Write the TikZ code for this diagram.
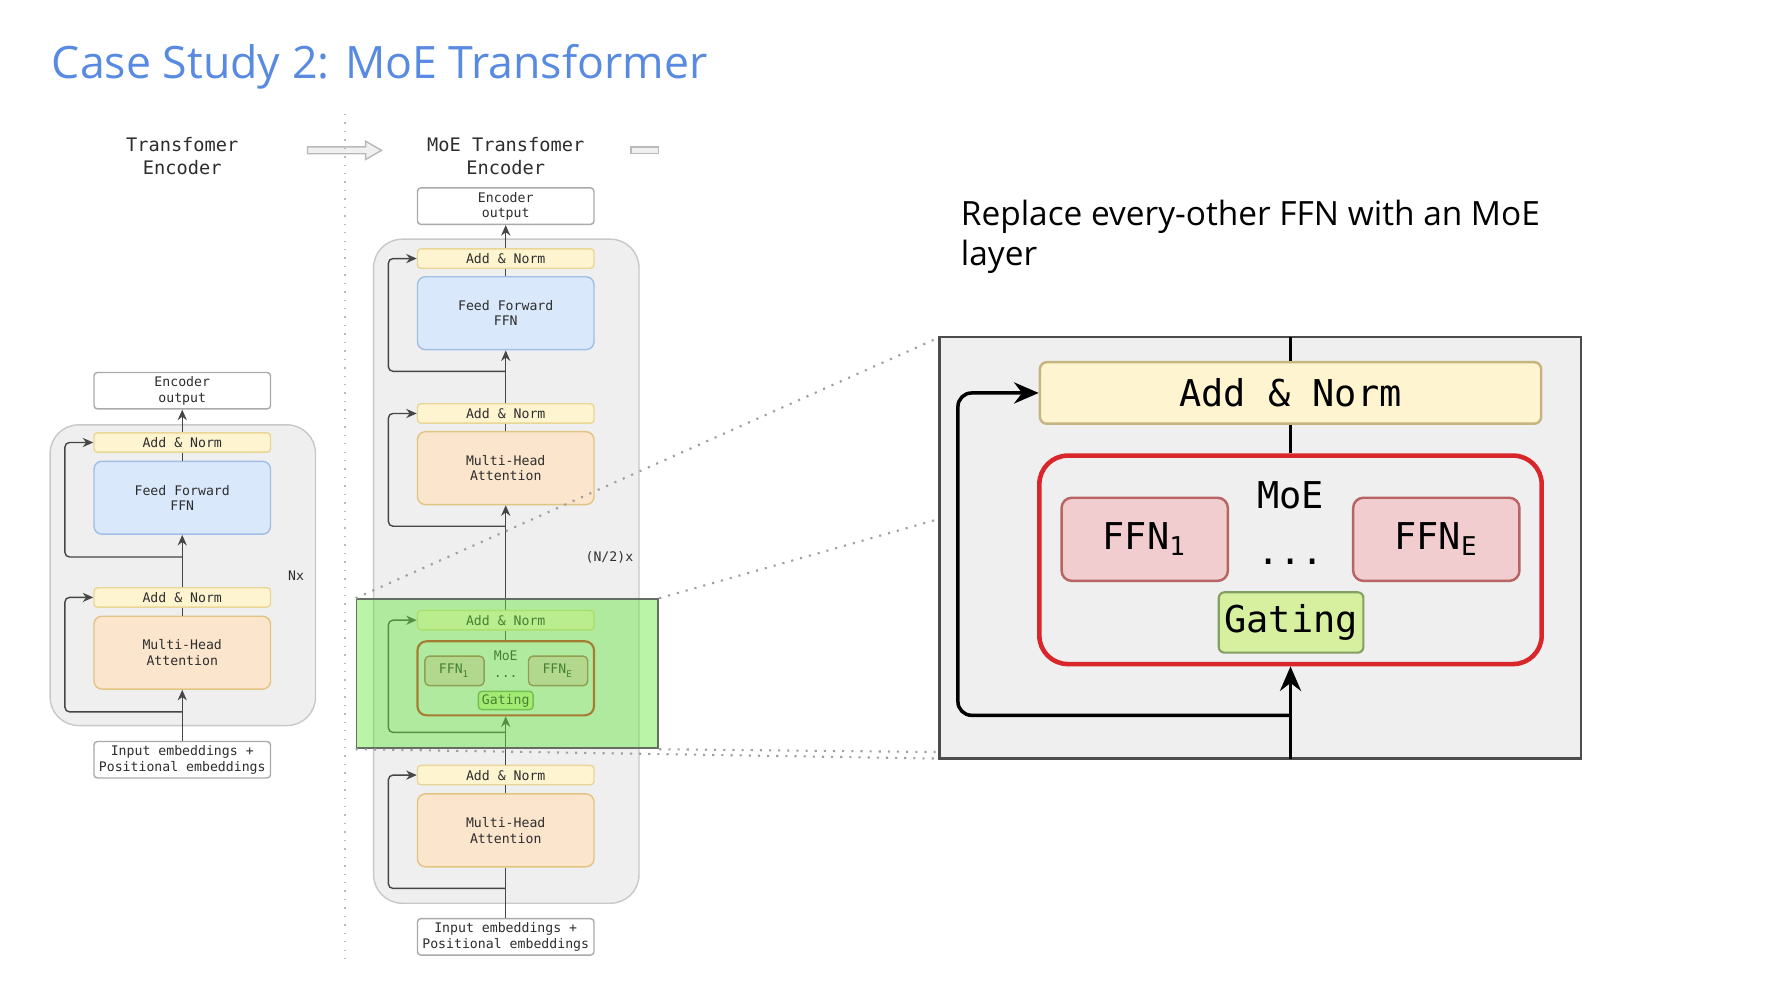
\documentclass[tikz,border=0pt]{standalone}
\usepackage{fontspec}
\usetikzlibrary{positioning}
\usetikzlibrary{arrows.meta}
\setmainfont{Open Sans}
\newfontfamily\monofont{DejaVu Sans Mono}
\newlength\pxl
\setlength\pxl{0.01139cm}
\newcommand{\tinymono}{\monofont\fontsize{3.75}{4.4}\selectfont}
\newcommand{\headmono}{\monofont\fontsize{5.3}{6.5}\selectfont}
\newcommand{\bigmono}{\monofont\fontsize{10.5}{12}\selectfont}
\definecolor{titleblue}{RGB}{88,138,226}
\definecolor{txtgray}{RGB}{45,45,45}
\definecolor{flowgray}{RGB}{70,70,70}
\definecolor{anfill}{RGB}{255,244,208}
\definecolor{anedge}{RGB}{232,214,150}
\definecolor{fffill}{RGB}{218,232,252}
\definecolor{ffedge}{RGB}{160,190,230}
\definecolor{mhfill}{RGB}{252,229,205}
\definecolor{mhedge}{RGB}{226,196,130}
\definecolor{iogray}{RGB}{170,170,170}
\definecolor{contgray}{RGB}{239,239,239}
\definecolor{contedge}{RGB}{200,200,200}
\definecolor{moered}{RGB}{217,38,42}
\definecolor{ffnpink}{RGB}{242,205,208}
\definecolor{ffnedge}{RGB}{184,100,100}
\definecolor{gatefill}{RGB}{215,240,160}
\definecolor{gateedge}{RGB}{130,160,100}
\definecolor{hlgreen}{RGB}{100,230,60}
\definecolor{hledge}{RGB}{100,110,100}
\tikzset{
  blk/.style = {draw, rounded corners = 3\pxl, inner sep = 0, minimum width = 155\pxl, align = center, font = \tinymono, text = txtgray},
  addnorm/.style = {blk, fill = anfill, draw = anedge, minimum height = 17\pxl},
  ffblk/.style = {blk, fill = fffill, draw = ffedge, minimum height = 64\pxl, rounded corners = 7\pxl},
  mhablk/.style = {blk, fill = mhfill, draw = mhedge, minimum height = 64\pxl, rounded corners = 7\pxl},
  iobox/.style = {blk, fill = white, draw = iogray, minimum height = 32\pxl},
  encbg/.style = {fill = contgray, draw = contedge, rounded corners = 25\pxl, inner sep = 0},
  moesmall/.style = {blk, fill = contgray, draw = moered, line width = 0.6pt, minimum height = 65\pxl, rounded corners = 8\pxl},
  ffnsmall/.style = {blk, fill = ffnpink, draw = ffnedge, minimum width = 52\pxl, minimum height = 26\pxl, rounded corners = 4\pxl},
  gatesmall/.style = {blk, fill = gatefill, draw = gateedge, minimum width = 48\pxl, minimum height = 16\pxl},
  lbl/.style = {font = \tinymono, text = txtgray, inner sep = 0},
  flow/.style = {draw = flowgray, line width = 0.4pt},
  upflow/.style = {-{Stealth[length = 3pt, width = 2.6pt]}},
  bigaddnorm/.style = {draw = anedge!85!black, fill = anfill, line width = 0.7pt, rounded corners = 6\pxl, minimum width = 440\pxl, minimum height = 54\pxl, font = \bigmono, inner sep = 0},
  moebig/.style = {draw = moered, fill = contgray, line width = 1.3pt, rounded corners = 25\pxl, minimum width = 441\pxl, minimum height = 183\pxl, inner sep = 0},
  ffnbig/.style = {draw = ffnedge, fill = ffnpink, line width = 0.7pt, rounded corners = 9\pxl, minimum width = 146\pxl, minimum height = 73\pxl, font = \bigmono, inner sep = 0},
  gatebig/.style = {draw = gateedge, fill = gatefill, line width = 0.6pt, rounded corners = 5\pxl, minimum width = 127\pxl, minimum height = 53\pxl, font = \bigmono, inner sep = 0},
  bigflow/.style = {draw = black, line width = 1pt},
  bigtip/.style = {-{Stealth[length = 7pt, width = 6pt]}},
  hollow/.style = {draw = gray!55, fill = gray!12, line width = 0.4pt},
}

\begin{document}
\begin{tikzpicture}[x = 0.01139cm, y = -0.01139cm]
  \useasboundingbox (0,0) rectangle (1568,881);

  \node[anchor = base west, text = titleblue, font = \fontsize{12.7}{15}\selectfont, inner sep = 0] (title) at (45,69) {Case Study 2: MoE Transformer};

  % headings and slide arrows
  \node[font = \headmono, align = center, text = txtgray] (hdrL) at (160,137) {Transfomer\\Encoder};
  \node[font = \headmono, align = center, text = txtgray] (hdrM) at (444,137) {MoE Transfomer\\Encoder};
  \draw[hollow] (270,129) -- (321,129) -- (321,124) -- (335,132) -- (321,140) -- (321,135) -- (270,135) -- cycle;
  \draw[hollow] (554,129) rectangle (578,135);
  \draw[dotted, draw = gray!55] (303,100) -- (303,845);

  % transformer encoder
  \node[encbg, minimum width = 233\pxl, minimum height = 264\pxl] (contL) at (160.5,505) {};
  \node[iobox] (outL) at (160,343) {Encoder\\output};
  \node[addnorm] (anL2) at (160,388.5) {Add \& Norm};
  \node[ffblk] (ffL) at (160,437) {Feed Forward\\FFN};
  \node[addnorm] (anL1) at (160,524.5) {Add \& Norm};
  \node[mhablk] (mhaL) at (160,573) {Multi-Head\\Attention};
  \node[iobox] (inL) at (160,667) {Input embeddings +\\Positional embeddings};
  \node[lbl] (nxL) at (260,505) {Nx};
  \coordinate (brL1) at (160,625);
  \coordinate (brL2) at (160,489);
  \draw[flow, upflow] (inL) -- (mhaL);
  \draw[flow] (mhaL) -- (anL1);
  \draw[flow, upflow] (anL1) -- (ffL);
  \draw[flow] (ffL) -- (anL2);
  \draw[flow, upflow] (anL2) -- (outL);
  \draw[flow, upflow, rounded corners = 4\pxl] (brL1) -- ++(-103,0) |- (anL1.west);
  \draw[flow, upflow, rounded corners = 4\pxl] (brL2) -- ++(-103,0) |- (anL2.west);

  % moe transformer encoder
  \node[encbg, minimum width = 233\pxl, minimum height = 583\pxl] (contM) at (444.5,501.5) {};
  \node[iobox] (outM) at (444,181) {Encoder\\output};
  \node[addnorm] (anM4) at (444,227) {Add \& Norm};
  \node[ffblk] (ffM) at (444,275) {Feed Forward\\FFN};
  \node[addnorm] (anM3) at (444,363) {Add \& Norm};
  \node[mhablk] (mhaM2) at (444,411) {Multi-Head\\Attention};
  \node[addnorm] (anM2) at (444,544.5) {Add \& Norm};
  \node[moesmall] (moeM) at (444,595.5) {};
  \node[lbl] (moeMlbl) at (444,576) {MoE};
  \node[ffnsmall] (ffn1M) at (399,589) {FFN\textsubscript{1}};
  \node[ffnsmall] (ffnEM) at (490,589) {FFN\textsubscript{E}};
  \node[lbl] (dotsM) at (444,594) {...};
  \node[gatesmall] (gateM) at (444,615) {Gating};
  \node[addnorm] (anM1) at (444,680.5) {Add \& Norm};
  \node[mhablk] (mhaM1) at (444,729) {Multi-Head\\Attention};
  \node[iobox] (inM) at (444,822.5) {Input embeddings +\\Positional embeddings};
  \node[lbl] (nxM) at (535,489) {(N/2)x};
  \coordinate (brM1) at (444,780);
  \coordinate (brM2) at (444,643);
  \coordinate (brM3) at (444,462);
  \coordinate (brM4) at (444,326);
  \draw[flow] (inM) -- (mhaM1);
  \draw[flow] (mhaM1) -- (anM1);
  \draw[flow, upflow] (anM1) -- (moeM);
  \draw[flow] (moeM) -- (anM2);
  \draw[flow, upflow] (anM2) -- (mhaM2);
  \draw[flow] (mhaM2) -- (anM3);
  \draw[flow, upflow] (anM3) -- (ffM);
  \draw[flow] (ffM) -- (anM4);
  \draw[flow, upflow] (anM4) -- (outM);
  \draw[flow, upflow, rounded corners = 4\pxl] (brM1) -- ++(-103,0) |- (anM1.west);
  \draw[flow, upflow, rounded corners = 4\pxl] (brM2) -- ++(-103,0) |- (anM2.west);
  \draw[flow, upflow, rounded corners = 4\pxl] (brM3) -- ++(-103,0) |- (anM3.west);
  \draw[flow, upflow, rounded corners = 4\pxl] (brM4) -- ++(-103,0) |- (anM4.west);

  % highlight and zoom lines
  \node[draw = hledge, fill = hlgreen, fill opacity = 0.45, line width = 0.5pt, minimum width = 265\pxl, minimum height = 131\pxl, inner sep = 0] (hl) at (445.5,591.5) {};
  \coordinate (zNW) at (825,296);
  \coordinate (zSE) at (1388,666);
  \draw[dotted, draw = gray!75, line width = 0.6pt] (hl.north west) -- (zNW);
  \draw[dotted, draw = gray!75, line width = 0.6pt] (hl.north east) -- (zSE |- zNW);
  \draw[dotted, draw = gray!75, line width = 0.6pt] (hl.south west) -- (zNW |- zSE);
  \draw[dotted, draw = gray!75, line width = 0.6pt] (hl.south east) -- (zSE);

  \node[anchor = base west, align = left, font = \fontsize{9.5}{11.3}\selectfont, inner sep = 0] (note) at (843,233) {Replace every-other FFN with an MoE\\layer};

  % zoomed moe layer
  \draw[draw = black!70, fill = contgray, line width = 0.7pt] (zNW) rectangle (zSE);
  \node[bigaddnorm] (anZ) at (1133,345) {Add \& Norm};
  \node[moebig] (moeZ) at (1133,491.5) {};
  \node[font = \bigmono, inner sep = 0] (moeZlbl) at (1133,435) {MoE};
  \node[ffnbig] (ffn1Z) at (1005,473.5) {FFN\textsubscript{1}};
  \node[ffnbig] (ffnEZ) at (1261,473.5) {FFN\textsubscript{E}};
  \node[font = \bigmono, inner sep = 0] (dotsZ) at (1133,493) {...};
  \node[gatebig] (gateZ) at (1133.5,546.5) {Gating};
  \coordinate (brZ) at (1133,628);
  \draw[bigflow] (anZ |- zNW) -- (anZ.north);
  \draw[bigflow] (anZ.south) -- (moeZ.north);
  \draw[bigflow, bigtip] (anZ |- zSE) -- (moeZ.south);
  \draw[bigflow, bigtip, rounded corners = 12\pxl] (brZ) -- ++(-292,0) |- (anZ.west);
\end{tikzpicture}
\end{document}
